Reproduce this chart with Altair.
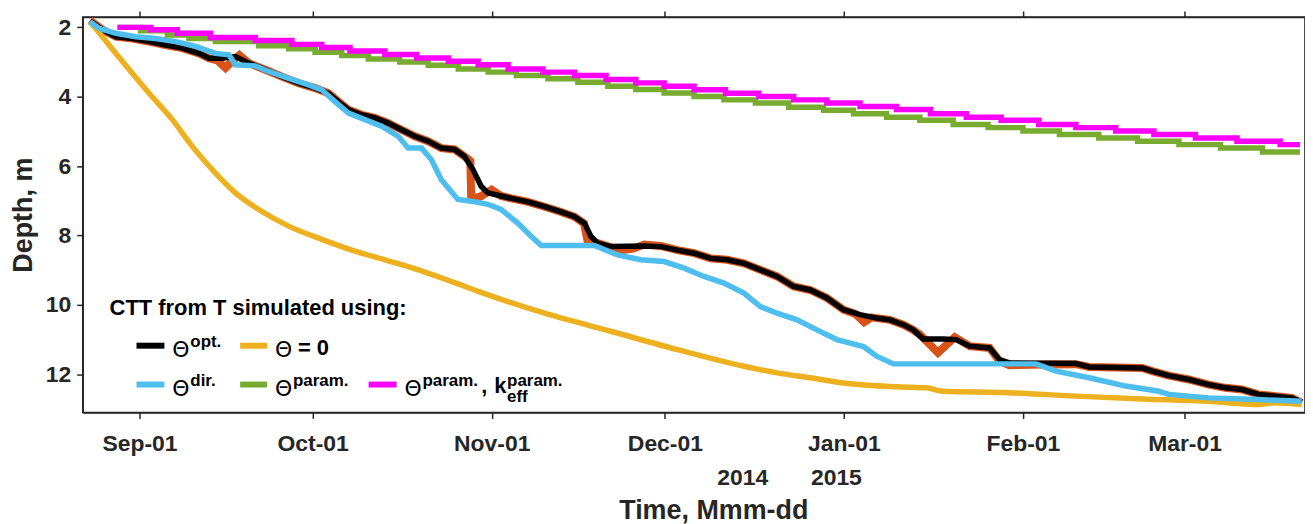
import altair as alt
import pandas as pd

# ---------------- data (days since 2014-09-01, depth in m) ----------------
opt_days = [-8.58, -6.38, -4.09, -1.21, 1.67, 4.54, 7.42, 10.30, 12.03, 14.32, 16.61, 18.93,
            21.79, 24.67, 27.55, 30.42, 32.73, 34.45, 36.18, 38.47, 40.77, 43.08, 45.38, 47.67,
            49.98, 52.28, 54.57, 56.30, 57.75, 59.18, 60.34, 62.63, 64.41, 67.29, 70.17, 73.03,
            75.35, 77.07, 78.21, 79.37, 81.66, 87.42, 90.29, 93.17, 96.05, 98.91, 101.79, 104.68,
            107.54, 110.42, 113.30, 116.17, 119.05, 121.93, 124.79, 127.67, 129.97, 132.28, 134.01,
            135.73, 139.18, 141.48, 143.77, 147.22, 148.95, 150.67, 162.18, 164.47, 173.69, 175.41,
            178.28, 181.73, 185.18, 188.06, 190.94, 193.81, 196.69, 199.57, 201.29]
opt_depth = [1.82, 2.07, 2.27, 2.32, 2.41, 2.51, 2.60, 2.75, 2.89, 2.89, 2.84, 3.03,
             3.22, 3.42, 3.61, 3.75, 3.90, 4.14, 4.37, 4.52, 4.61, 4.76, 4.95, 5.14,
             5.28, 5.48, 5.52, 5.72, 6.10, 6.58, 6.77, 6.86, 6.93, 7.03, 7.17, 7.32,
             7.46, 7.65, 8.03, 8.22, 8.32, 8.30, 8.32, 8.42, 8.51, 8.66, 8.70, 8.80,
             8.99, 9.18, 9.47, 9.57, 9.80, 10.14, 10.28, 10.38, 10.43, 10.57, 10.72,
             10.98, 10.98, 11.00, 11.19, 11.24, 11.58, 11.67, 11.69, 11.79, 11.82, 11.91,
             12.04, 12.15, 12.30, 12.39, 12.44, 12.58, 12.63, 12.68, 12.80]

meas_days = [-8.58, -6.38, -4.09, -1.21, 1.67, 4.54, 7.42, 10.30, 12.03, 13.5, 14.9, 16.0, 17.3,
             18.93, 21.79, 24.67, 27.55, 30.42, 32.73, 34.45, 36.18, 38.47, 40.77, 43.08, 45.38,
             47.67, 49.98, 52.28, 54.57, 56.30, 57.3, 57.45, 59.0, 61.0, 62.63, 64.41, 67.29,
             70.17, 73.03, 75.35, 77.0, 77.6, 79.37, 81.66, 83.5, 85.5, 87.42, 90.29, 93.17,
             96.05, 98.91, 101.79, 104.68, 107.54, 110.42, 113.30, 116.17, 119.05, 121.93, 124.0,
             125.5, 126.8, 127.67, 129.97, 132.28, 134.01, 135.2, 138.3, 141.2, 143.77, 147.22,
             148.95, 150.67, 157.0, 162.18, 164.47, 173.69, 175.41, 178.28, 181.73, 185.18,
             188.06, 190.94, 193.81, 196.69, 199.57, 201.29]
meas_depth = [1.80, 2.07, 2.27, 2.32, 2.41, 2.51, 2.60, 2.75, 2.89, 2.95, 3.17, 2.98, 2.80,
              3.03, 3.22, 3.42, 3.61, 3.75, 3.90, 4.14, 4.37, 4.52, 4.61, 4.76, 4.95,
              5.14, 5.28, 5.48, 5.52, 5.72, 5.85, 6.93, 6.88, 6.68, 6.86, 6.93, 7.03,
              7.17, 7.32, 7.46, 7.65, 8.15, 8.22, 8.34, 8.42, 8.38, 8.26, 8.30, 8.42,
              8.51, 8.66, 8.70, 8.80, 8.99, 9.18, 9.47, 9.57, 9.80, 10.14, 10.26,
              10.50, 10.36, 10.38, 10.43, 10.57, 10.72, 10.86, 11.38, 10.93, 11.19, 11.24,
              11.62, 11.74, 11.72, 11.71, 11.79, 11.82, 11.91, 12.04, 12.15, 12.30,
              12.39, 12.44, 12.58, 12.63, 12.68, 12.82]

zero_days = [-8.58, -8.11, -4.09, 1.67, 5.69, 9.14, 13.16, 16.62, 20.65, 25.83, 31.57, 37.32,
             43.08, 48.83, 54.57, 58.66, 70.17, 81.61, 93.17, 104.68, 110.42, 116.12, 121.93,
             131.12, 136.3, 139.17, 150.6, 162.2, 173.7, 185.1, 193.8, 196.7, 201.3]
zero_depth = [1.84, 1.93, 2.75, 3.90, 4.66, 5.43, 6.20, 6.77, 7.25, 7.73, 8.11, 8.45,
              8.73, 9.02, 9.36, 9.61, 10.24, 10.76, 11.29, 11.77, 11.96, 12.10, 12.25,
              12.36, 12.39, 12.49, 12.53, 12.63, 12.71, 12.78, 12.87, 12.82, 12.87]

dir_days = [-8.58, -6.95, -4.09, -0.64, 2.81, 6.26, 9.71, 13.16, 15.48, 16.61, 20.07, 22.38,
            25.83, 29.28, 31.57, 33.87, 36.18, 39.04, 41.93, 44.81, 46.53, 48.83, 50.55, 52.28,
            55.16, 57.45, 60.34, 62.63, 65.56, 67.86, 69.58, 78.80, 82.82, 86.84, 90.87, 94.32,
            97.77, 101.22, 104.68, 107.54, 110.42, 113.87, 117.32, 120.77, 125.38, 127.67,
            130.56, 155.28, 158.73, 164.47, 170.81, 176.55, 178.28, 185.18, 193.81, 201.29]
dir_depth = [1.84, 2.03, 2.17, 2.27, 2.32, 2.41, 2.55, 2.75, 2.79, 3.08, 3.11, 3.27,
             3.47, 3.66, 3.80, 4.14, 4.47, 4.66, 4.85, 5.14, 5.48, 5.48, 5.81, 6.39,
             6.96, 7.01, 7.10, 7.25, 7.65, 8.03, 8.29, 8.29, 8.56, 8.70, 8.75, 8.94,
             9.18, 9.37, 9.66, 10.05, 10.24, 10.43, 10.72, 11.00, 11.20, 11.48,
             11.70, 11.70, 11.91, 12.10, 12.34, 12.49, 12.58, 12.68, 12.73, 12.78]

param_days = [-3.80, 0.22, 4.83, 8.57, 13.16, 20.65, 25.83, 30.42, 35.02, 39.63, 45.08, 50.0,
              55.21, 60.39, 65.27, 70.75, 75.93, 81.11, 85.97, 90.87, 96.05, 101.22, 106.68,
              112.44, 118.48, 123.66, 129.40, 135.15, 140.93, 146.97, 153.01, 159.33, 166.14,
              172.86, 180.03, 187.23, 194.49, 201.0]
param_depth = [2.00, 2.10, 2.22, 2.32, 2.41, 2.53, 2.62, 2.72, 2.81, 2.91, 3.00, 3.09,
               3.20, 3.29, 3.39, 3.48, 3.58, 3.70, 3.79, 3.89, 3.99, 4.09, 4.18,
               4.30, 4.39, 4.49, 4.59, 4.68, 4.80, 4.89, 4.99, 5.09, 5.19,
               5.28, 5.38, 5.48, 5.59, 5.59]

paramk_days = [-3.80, 1.95, 6.56, 12.30, 20.07, 26.40, 31.57, 36.46, 42.50, 48.02, 53.49, 58.66,
               63.84, 69.88, 75.35, 80.80, 85.97, 90.87, 96.05, 101.50, 107.26, 113.30, 119.05,
               124.79, 131.12, 136.99, 143.20, 149.24, 155.75, 162.18, 169.08, 175.69, 182.88,
               190.08, 197.55, 201.0]
paramk_depth = [2.00, 2.07, 2.17, 2.29, 2.38, 2.49, 2.58, 2.68, 2.78, 2.88, 2.98, 3.08,
                3.20, 3.29, 3.39, 3.50, 3.60, 3.70, 3.80, 3.90, 3.99, 4.09, 4.18,
                4.28, 4.37, 4.49, 4.59, 4.68, 4.80, 4.89, 4.99, 5.09, 5.19,
                5.28, 5.38, 5.38]

y_ticks = [2, 4, 6, 8, 10, 12]

# ---------------- helpers ----------------
BASE = pd.Timestamp("2014-09-01")
FONT = "Liberation Sans"
AX = "#262626"


def frame(days, depth):
    return pd.DataFrame({"date": BASE + pd.to_timedelta(days, unit="D"), "depth": depth})


x_ticks = [alt.DateTime(year=y, month=m, date=1) for y, m in
           [(2014, 9), (2014, 10), (2014, 11), (2014, 12), (2015, 1), (2015, 2), (2015, 3)]]

xs = alt.Scale(domain=[alt.DateTime(year=2014, month=8, date=22, hours=4, minutes=5),
                       alt.DateTime(year=2015, month=3, date=21, hours=20, minutes=38)])
ys = alt.Scale(domain=[1.7, 13.1], reverse=True, nice=False, zero=False)

x_bottom = alt.Axis(values=x_ticks, format="%b-%d", grid=False, title="Time, Mmm-dd",
                    labelFont=FONT, labelFontSize=23, labelFontWeight="bold", labelColor=AX,
                    labelPadding=14, tickSize=6, tickWidth=1.5, tickColor=AX,
                    domainColor=AX, domainWidth=1.5,
                    titleFont=FONT, titleFontSize=27, titleFontWeight="bold", titleColor=AX,
                    titleX=633, titleY=106, titleAlign="center", titleBaseline="alphabetic")
y_left = alt.Axis(values=y_ticks, grid=False, title="Depth, m",
                  labelFont=FONT, labelFontSize=23, labelFontWeight="bold", labelColor=AX,
                  labelPadding=6, tickSize=6, tickWidth=1.5, tickColor=AX,
                  domainColor=AX, domainWidth=1.5,
                  titleFont=FONT, titleFontSize=27, titleFontWeight="bold", titleColor=AX,
                  titleX=-59, titleY=198.5, titleAngle=270, titleAlign="center",
                  titleBaseline="middle")
x_top = alt.Axis(orient="top", values=x_ticks, labels=False, grid=False, title=None,
                 tickSize=6, tickWidth=1.5, tickColor=AX, domainColor=AX, domainWidth=1.5)
y_right = alt.Axis(orient="right", values=y_ticks, labels=False, grid=False, title=None,
                   tickSize=6, tickWidth=1.5, tickColor=AX, domainColor=AX, domainWidth=1.5)


def series(df, color, width, xaxis=None, yaxis=None, interp="linear"):
    xa = alt.X("date:T", scale=xs, axis=xaxis) if xaxis is not None else alt.X("date:T", scale=xs, axis=None)
    ya = alt.Y("depth:Q", scale=ys, axis=yaxis) if yaxis is not None else alt.Y("depth:Q", scale=ys, axis=None)
    return alt.Chart(df).mark_line(color=color, strokeWidth=width, interpolate=interp,
                                   strokeJoin="miter").encode(x=xa, y=ya)


ONE = pd.DataFrame({"k": [0]})


def txt(s, x, y, size=22, weight="bold", font=FONT, color="black"):
    return alt.Chart(ONE).mark_text(text=s, font=font, fontSize=size, fontWeight=weight,
                                    align="left", baseline="alphabetic", color=color).encode(
        x=alt.value(x), y=alt.value(y))


def swatch(color, x1, x2, y):
    return alt.Chart(ONE).mark_rule(color=color, strokeWidth=6, strokeCap="butt").encode(
        x=alt.value(x1), x2=alt.value(x2), y=alt.value(y))


lines = [
    series(frame(meas_days, meas_depth), "#D95319", 8),
    series(frame(opt_days, opt_depth), "#000000", 5.5, xaxis=x_bottom, yaxis=y_left),
    series(frame(zero_days, zero_depth), "#EDB120", 5.5, interp="monotone"),
    series(frame(dir_days, dir_depth), "#4DBEEE", 5.5),
    series(frame(param_days, param_depth), "#77AC30", 5.5, interp="step-after"),
    series(frame(paramk_days, paramk_depth), "#FF00FF", 5.5, xaxis=x_top, yaxis=y_right,
           interp="step-after"),
]

TH = "DejaVu Sans"
legend = [
    txt("CTT from T simulated using:", 27, 299),
    swatch("#000000", 54, 82, 330),
    txt("Θ", 90, 341, size=22, weight="normal", font=TH),
    txt("opt.", 108, 331, size=17),
    swatch("#EDB120", 158, 185, 330),
    txt("Θ", 193, 341, size=22, weight="normal", font=TH),
    txt("= 0", 216, 339),
    swatch("#4DBEEE", 54, 82, 369),
    txt("Θ", 90, 380, size=22, weight="normal", font=TH),
    txt("dir.", 108, 370, size=17),
    swatch("#77AC30", 158, 185, 369),
    txt("Θ", 193, 380, size=22, weight="normal", font=TH),
    txt("param.", 211, 370, size=17),
    swatch("#FF00FF", 287, 315, 369),
    txt("Θ", 323, 380, size=22, weight="normal", font=TH),
    txt("param.", 341, 370, size=17),
    txt(",", 400, 377),
    txt("k", 413, 377),
    txt("param.", 426, 370, size=17),
    txt("eff", 426, 387, size=17),
    txt("2014", 637, 470, size=23, color=AX),
    txt("2015", 731, 470, size=23, color=AX),
]

chart = alt.layer(*lines, *legend).resolve_axis(x="independent", y="independent").properties(
    width=1227, height=397,
    autosize=alt.AutoSizeParams(type="none"),
    padding={"left": 75, "top": 8, "right": 0, "bottom": 111},
).configure_view(stroke=AX, strokeWidth=1.5)

chart.save("out.html", embed_options={"renderer": "svg", "actions": False})
